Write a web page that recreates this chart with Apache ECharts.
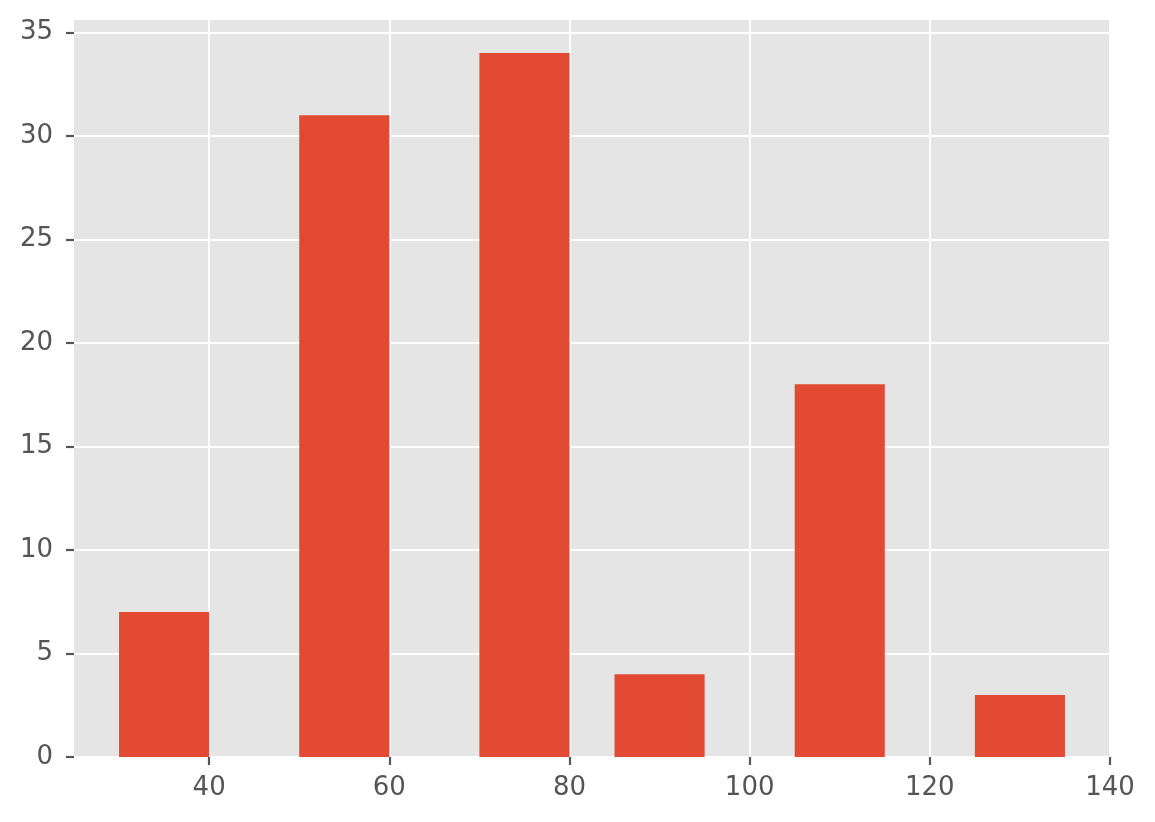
<!DOCTYPE html>
<html>
<head>
<meta charset="utf-8">
<script src="https://cdn.jsdelivr.net/npm/echarts@6/dist/echarts.min.js"></script>
<style>html,body{margin:0;padding:0;background:#fff;}#c{width:1155px;height:822px;}</style>
</head>
<body>
<div id="c"></div>
<script>
const binStarts = [30, 50, 70, 85, 105, 125];
const binEnds   = [40, 60, 80, 95, 115, 135];
const counts    = [7, 31, 34, 4, 18, 3];
const xTicks = [40, 60, 80, 100, 120, 140];
const yTicks = [0, 5, 10, 15, 20, 25, 30, 35];

const data = binStarts.map((s, i) => [s, binEnds[i], counts[i]]);
const chart = echarts.init(document.getElementById('c'), null, {renderer: 'canvas'});
const labelStyle = {color: '#555555', fontSize: 26, fontFamily: 'DejaVu Sans'};
chart.setOption({
  animation: false,
  backgroundColor: '#ffffff',
  grid: {left: 74, right: 45, top: 20, bottom: 65, show: true, backgroundColor: '#E5E5E5', borderWidth: 0},
  xAxis: {
    type: 'value', min: 25, max: 140,
    axisLine: {show: false},
    axisTick: {show: true, length: 8, lineStyle: {color: '#555555', width: 2.2}, customValues: xTicks},
    axisLabel: Object.assign({margin: 18, customValues: xTicks}, labelStyle),
    splitLine: {show: true, lineStyle: {color: '#ffffff', width: 1.8}}
  },
  yAxis: {
    type: 'value', min: 0, max: 35.6,
    axisLine: {show: false},
    axisTick: {show: true, length: 8, lineStyle: {color: '#555555', width: 2.2}, customValues: yTicks},
    axisLabel: Object.assign({margin: 21, customValues: yTicks}, labelStyle),
    splitLine: {show: true, lineStyle: {color: '#ffffff', width: 1.8}}
  },
  series: [{
    type: 'custom',
    z: 5,
    data: data,
    encode: {x: [0, 1], y: 2},
    renderItem: function (params, api) {
      const p0 = api.coord([api.value(0), api.value(2)]);
      const p1 = api.coord([api.value(1), 0]);
      return {
        type: 'rect',
        shape: {x: p0[0], y: p0[1], width: p1[0] - p0[0], height: p1[1] - p0[1]},
        style: {fill: '#E24A33'}
      };
    }
  }]
});
</script>
</body>
</html>
